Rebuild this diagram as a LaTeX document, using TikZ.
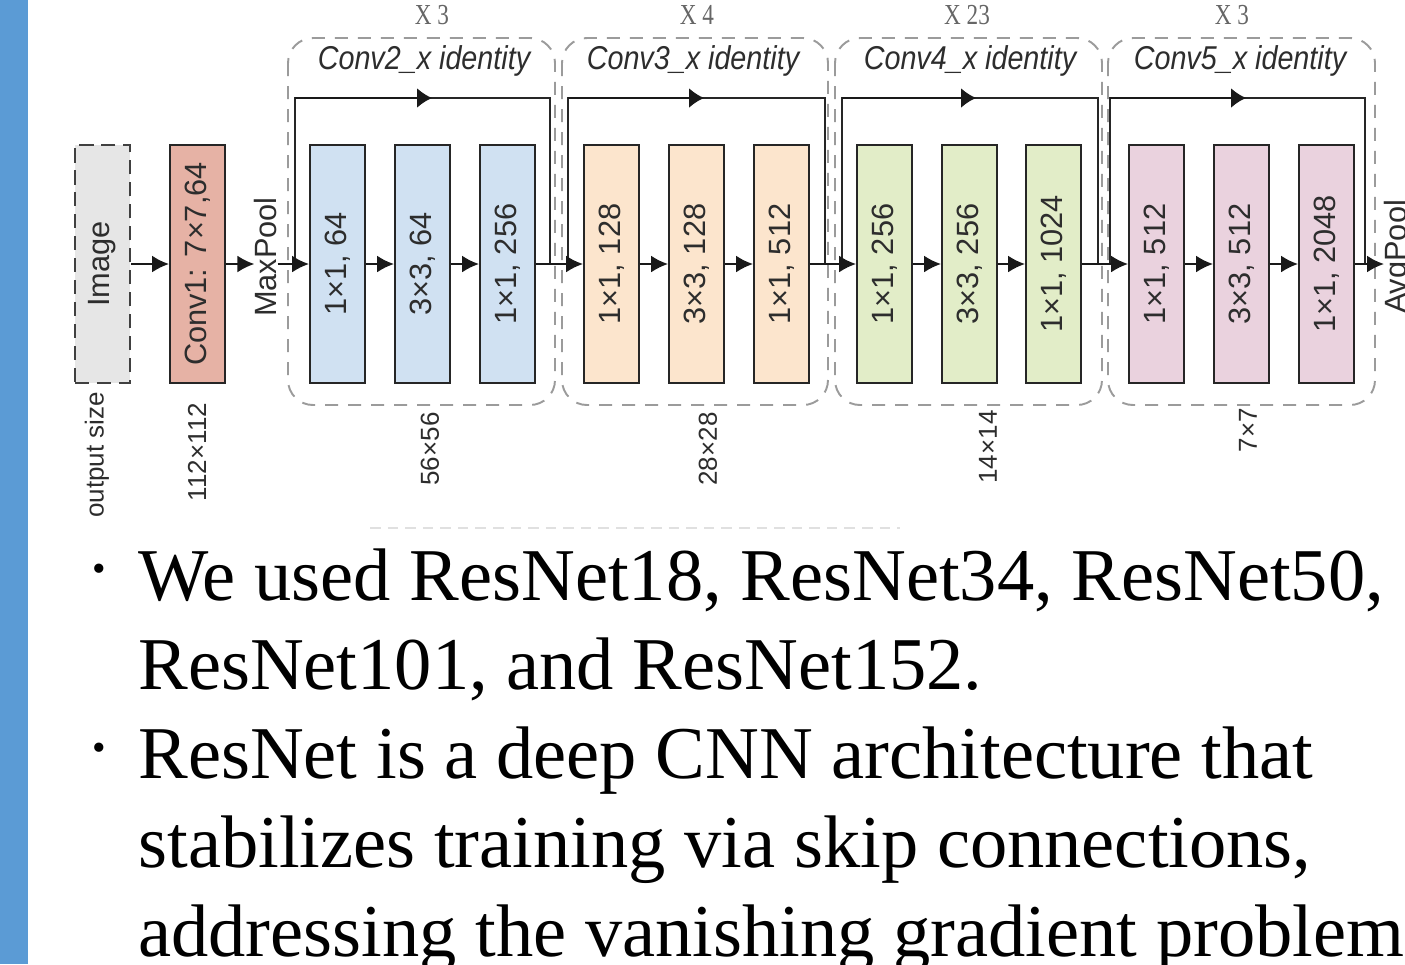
\documentclass[tikz,border=0pt]{standalone}
\usepackage{fontspec}
\setmainfont{Liberation Serif}
\newfontfamily\dsans{Liberation Sans}
\newfontfamily\nsansit[FakeStretch=0.87]{Liberation Sans Italic}
\newfontfamily\nserif[FakeStretch=0.8]{Liberation Serif}
\usetikzlibrary{arrows.meta}
\definecolor{sidebar}{RGB}{91,155,213}
\definecolor{cblue}{RGB}{208,225,242}
\definecolor{corange}{RGB}{252,229,205}
\definecolor{cgreen}{RGB}{226,237,200}
\definecolor{cpink}{RGB}{234,210,222}
\definecolor{cconv}{RGB}{230,178,165}
\definecolor{cimg}{RGB}{230,230,230}
\definecolor{dtext}{RGB}{45,45,45}
\definecolor{grpgray}{RGB}{155,155,155}
\tikzset{
  blk/.style={draw=black!85, line width=1.1pt, minimum width=1.1cm, minimum height=4.76cm, inner sep=0pt,
    font=\dsans\fontsize{17.5}{20}\selectfont, text=dtext},
  arr/.style={line width=1.2pt, draw=black!90, -{Latex[length=0.34cm,width=0.34cm]}},
  skarr/.style={line width=1.2pt, draw=black!90, -{Latex[length=0.3cm,width=0.4cm]}},
  skipl/.style={line width=1.2pt, draw=black!85},
  grp/.style={draw=grpgray, line width=1.1pt, dash pattern=on 7.4pt off 5.7pt, rounded corners=0.5cm},
  glabel/.style={font=\nsansit\fontsize{18.8}{22}\selectfont, text=dtext},
  rep/.style={font=\nserif\fontsize{16.5}{18}\selectfont, text=black!60},
  osz/.style={font=\dsans\fontsize{14.8}{16}\selectfont, text=dtext, inner sep=0pt},
  body/.style={font=\fontsize{42.4}{50}\selectfont, anchor=base west, inner sep=0pt},
  bul/.style={font=\fontsize{22}{26}\selectfont, inner sep=0pt}
}
\newcommand{\rt}[1]{\rotatebox{90}{#1}}
\begin{document}
\begin{tikzpicture}[x=0.02cm,y=-0.02cm]
\useasboundingbox (0,0) rectangle (1405,964);
\clip (0,0) rectangle (1405,964);
\fill[sidebar] (0,0) rectangle (28,964);

% group outlines
\draw[grp] (288,38) rectangle (555,405);
\draw[grp] (562,38) rectangle (828,405);
\draw[grp] (835,38) rectangle (1102,405);
\draw[grp] (1108,38) rectangle (1375,405);

\node[glabel] (gl1) at (424,61) {Conv2\_x identity};
\node[glabel] (gl2) at (693,61) {Conv3\_x identity};
\node[glabel] (gl3) at (970,61) {Conv4\_x identity};
\node[glabel] (gl4) at (1240,61) {Conv5\_x identity};
\node[rep] (r1) at (432,15) {X 3};
\node[rep] (r2) at (697,15) {X 4};
\node[rep] (r3) at (967,15) {X 23};
\node[rep] (r4) at (1232,15) {X 3};

% first boxes
\node[blk, fill=cimg, draw=black!75, dash pattern=on 8pt off 4.5pt, line width=1.4pt] (img) at (102.5,264) {\rt{Image}};
\node[blk, fill=cconv] (conv1) at (197.5,264) {\rt{Conv1: 7×7,64}};
\node[font=\dsans\fontsize{17.5}{20}\selectfont, text=dtext, inner sep=0pt] (mp) at (266,257) {\rt{MaxPool}};

% blocks
\node[blk, fill=cblue] (b1) at (337.5,264) {\rt{1×1, 64}};
\node[blk, fill=cblue] (b2) at (422.5,264) {\rt{3×3, 64}};
\node[blk, fill=cblue] (b3) at (507.5,264) {\rt{1×1, 256}};
\node[blk, fill=corange] (b4) at (611.5,264) {\rt{1×1, 128}};
\node[blk, fill=corange] (b5) at (696.5,264) {\rt{3×3, 128}};
\node[blk, fill=corange] (b6) at (781.5,264) {\rt{1×1, 512}};
\node[blk, fill=cgreen] (b7) at (884.5,264) {\rt{1×1, 256}};
\node[blk, fill=cgreen] (b8) at (969.5,264) {\rt{3×3, 256}};
\node[blk, fill=cgreen] (b9) at (1053.5,264) {\rt{1×1, 1024}};
\node[blk, fill=cpink] (b10) at (1156.5,264) {\rt{1×1, 512}};
\node[blk, fill=cpink] (b11) at (1241.5,264) {\rt{3×3, 512}};
\node[blk, fill=cpink] (b12) at (1326.5,264) {\rt{1×1, 2048}};
\node[font=\dsans\fontsize{17.5}{20}\selectfont, text=dtext, inner sep=0pt, anchor=west] (ap) at (1384,257) {\rt{AvgPool}};

% skip connections
\foreach \l/\m/\r/\n in {295/432/550/1, 568/704/825/2, 842/976/1098/3, 1110/1246/1365/4}{
  \coordinate (sl\n) at (\l,264);
  \coordinate (sm\n) at (\m,98);
  \coordinate (sr\n) at (\r,264);
  \draw[skipl] (sl\n) |- (sm\n) -| (sr\n);
  \draw[skarr] (sl\n |- sm\n) -- (sm\n);
}

% main flow
\draw[arr] (img) -- (conv1);
\draw[arr] (conv1.east) -- (conv1.east -| mp.west);
\draw[arr] (mp.east |- b1) -- (b1);
\draw[arr] (b1) -- (b2);
\draw[arr] (b2) -- (b3);
\draw[arr] (b3) -- (b4);
\draw[arr] (b4) -- (b5);
\draw[arr] (b5) -- (b6);
\draw[arr] (b6) -- (b7);
\draw[arr] (b7) -- (b8);
\draw[arr] (b8) -- (b9);
\draw[arr] (b9) -- (b10);
\draw[arr] (b10) -- (b11);
\draw[arr] (b11) -- (b12);
\draw[arr] (b12.east) -- (b12.east -| ap.west);

% output sizes
\node[osz] (o0) at (97,455) {\rt{output size}};
\node[osz] (o1) at (197,452) {\rt{112×112}};
\node[osz] (o2) at (430,449) {\rt{56×56}};
\node[osz] (o3) at (708,449) {\rt{28×28}};
\node[osz] (o4) at (988,447) {\rt{14×14}};
\node[osz] (o5) at (1248,430) {\rt{7×7}};

\draw[black!12, line width=1pt, dash pattern=on 6pt off 4pt] (370,528) -- (900,528);

% bullet text
\node[bul] (bu1) at (99,573) {•};
\node[body] (t1) at (138,600) {We used ResNet18, ResNet34, ResNet50,};
\node[body] (t2) at (138,689) {ResNet101, and ResNet152.};
\node[bul] (bu2) at (99,752) {•};
\node[body] (t3) at (138,778) {ResNet is a deep CNN architecture that};
\node[body] (t4) at (138,867) {stabilizes training via skip connections,};
\node[body] (t5) at (138,956) {addressing the vanishing gradient problem};
\end{tikzpicture}
\end{document}
